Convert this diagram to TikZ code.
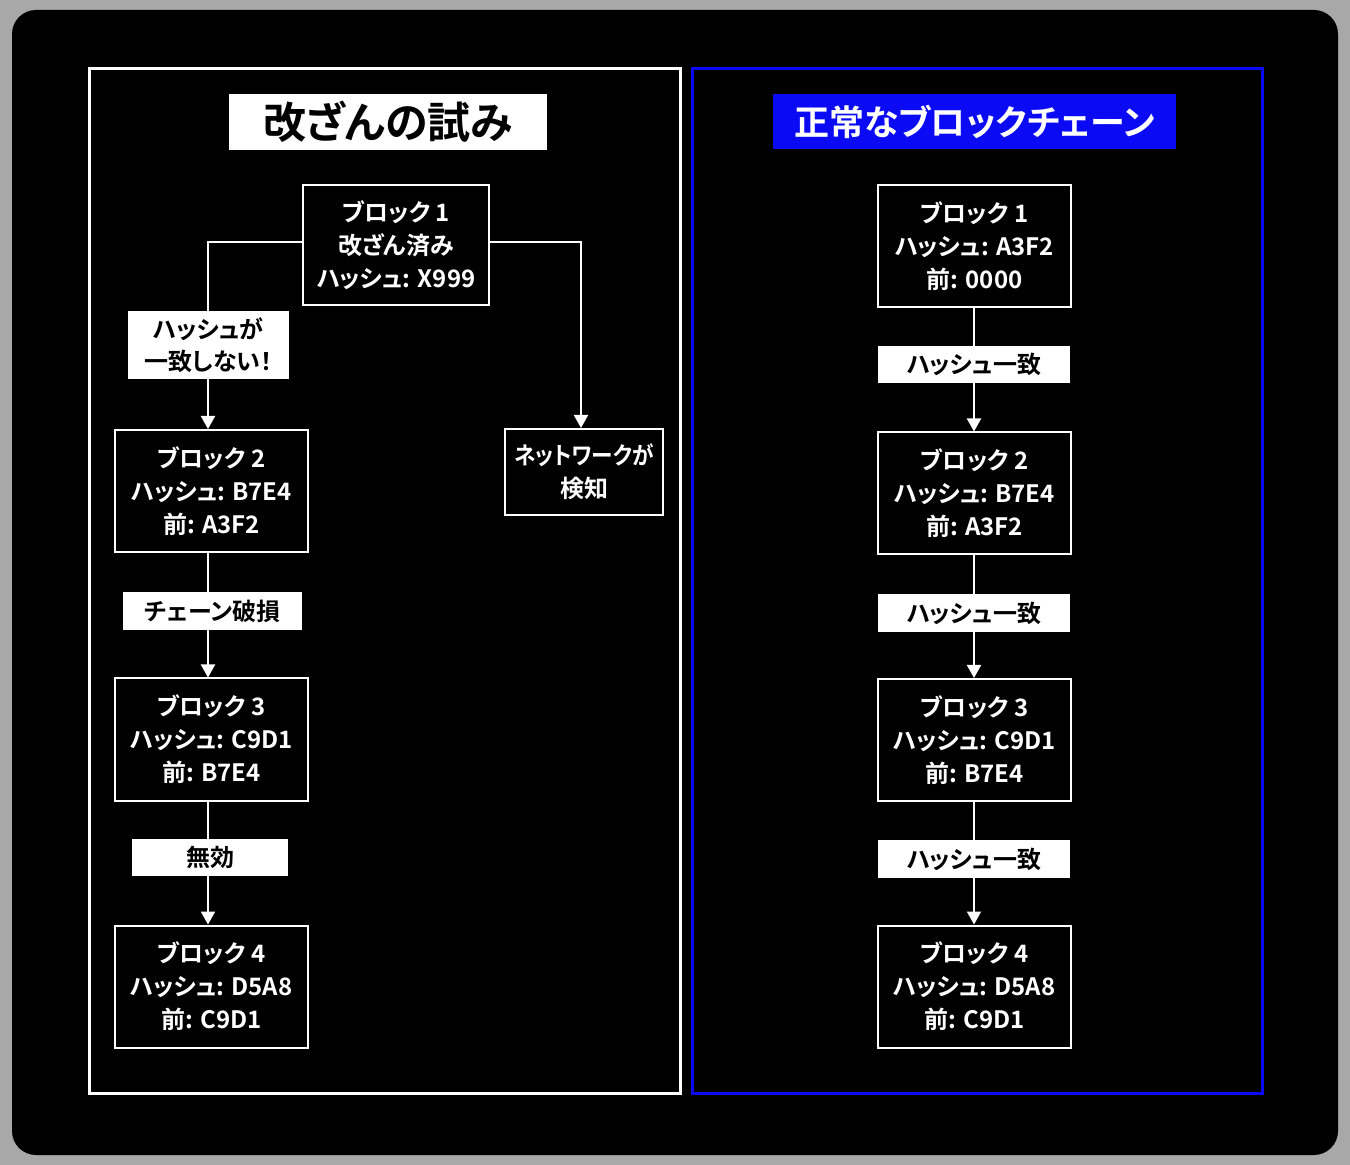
\documentclass[tikz,border=0pt]{standalone}
\usepackage{fontspec}
\usepackage{graphicx}
\usetikzlibrary{arrows.meta}
\newfontfamily\jp{Noto Sans CJK JP}[BoldFont={Noto Sans CJK JP Bold},RawFeature=+palt]
\definecolor{bgrey}{HTML}{A8A8A8}
\definecolor{myblue}{HTML}{0A0AF5}
\tikzset{
  x=0.5pt,y=-0.5pt,
  block/.style={draw=white,line width=1pt,text=white,align=center,
    minimum width=96.5pt,minimum height=61pt,inner sep=0pt,
    font=\jp\bfseries\fontsize{12}{16.5}\selectfont},
  lbl/.style={fill=white,text=black,align=center,inner sep=0pt,
    font=\jp\bfseries\fontsize{12}{16}\selectfont},
  conn/.style={draw=white,line width=1pt},
  arr/.style={conn,-{Triangle[width=7pt,length=6.5pt]}},
}
\begin{document}
\begin{tikzpicture}
\useasboundingbox (0,0) rectangle (1350,1165);
\fill[bgrey] (0,0) rectangle (1350,1165);
\fill[black,rounded corners=12pt] (12,10) rectangle (1338,1155);
% panels
\draw[white,line width=1.5pt] (89,69) rectangle (680,1093);
\draw[myblue,line width=1.5pt] (692,69) rectangle (1262,1093);
% titles
\node[fill=white,text=black,minimum width=159pt,minimum height=28pt,inner sep=0pt,
  font=\jp\bfseries\fontsize{21.5}{24}\selectfont] (t1) at (388,122) {改ざんの試み};
\node[fill=myblue,text=white,minimum width=201.5pt,minimum height=27.5pt,inner sep=0pt,
  font=\jp\bfseries\fontsize{17.5}{20}\selectfont] (t2) at (974.5,121.5) {正常なブロックチェーン};
% left column
\coordinate (cx) at (208,0);
\coordinate (nx) at (581,0);
\node[block,minimum width=93pt,minimum height=60pt] (a1) at (396,245) {ブロック 1\\改ざん済み\\ハッシュ: X999};
\node[lbl,minimum width=80.5pt,minimum height=34pt] (la) at (208.5,345) {ハッシュが\\一致しない！};
\node[block,minimum width=79pt,minimum height=43pt] (net) at (584,472) {\scalebox{0.9}[1]{ネットワークが}\\検知};
\node[block] (a2) at (211.5,491) {ブロック 2\\ハッシュ: B7E4\\前: A3F2};
\node[lbl,minimum width=89.5pt,minimum height=19pt] (lb) at (212.5,611) {チェーン破損};
\node[block] (a3) at (211.5,739.5) {ブロック 3\\ハッシュ: C9D1\\前: B7E4};
\node[lbl,minimum width=78pt,minimum height=18.5pt] (lc) at (210,857.5) {無効};
\node[block] (a4) at (211.5,986.5) {ブロック 4\\ハッシュ: D5A8\\前: C9D1};
\coordinate (a1w) at ([yshift=1.5pt]a1.west);
\coordinate (a1e) at ([yshift=1.5pt]a1.east);
\draw[conn] (a1w) -| (la.north -| cx);
\draw[arr] (la.south -| cx) -- (a2.north -| cx);
\draw[arr] (a1e) -| (net.north -| nx);
\draw[conn] (a2.south -| cx) -- (lb.north -| cx);
\draw[arr] (lb.south -| cx) -- (a3.north -| cx);
\draw[conn] (a3.south -| cx) -- (lc.north -| cx);
\draw[arr] (lc.south -| cx) -- (a4.north -| cx);
% right column
\node[block] (b1) at (974.5,246) {ブロック 1\\ハッシュ: A3F2\\前: 0000};
\node[lbl,minimum width=96pt,minimum height=18.5pt] (ra) at (974,364.5) {ハッシュ一致};
\node[block] (b2) at (974.5,493.5) {ブロック 2\\ハッシュ: B7E4\\前: A3F2};
\node[lbl,minimum width=96pt,minimum height=19pt] (rb) at (974,613) {ハッシュ一致};
\node[block] (b3) at (974.5,740) {ブロック 3\\ハッシュ: C9D1\\前: B7E4};
\node[lbl,minimum width=96pt,minimum height=19pt] (rc) at (974,859) {ハッシュ一致};
\node[block] (b4) at (974.5,986.5) {ブロック 4\\ハッシュ: D5A8\\前: C9D1};
\draw[conn] (b1.south -| ra.north) -- (ra.north);
\draw[arr] (ra.south) -- (ra.south |- b2.north);
\draw[conn] (b2.south -| rb.north) -- (rb.north);
\draw[arr] (rb.south) -- (rb.south |- b3.north);
\draw[conn] (b3.south -| rc.north) -- (rc.north);
\draw[arr] (rc.south) -- (rc.south |- b4.north);
\end{tikzpicture}
\end{document}
